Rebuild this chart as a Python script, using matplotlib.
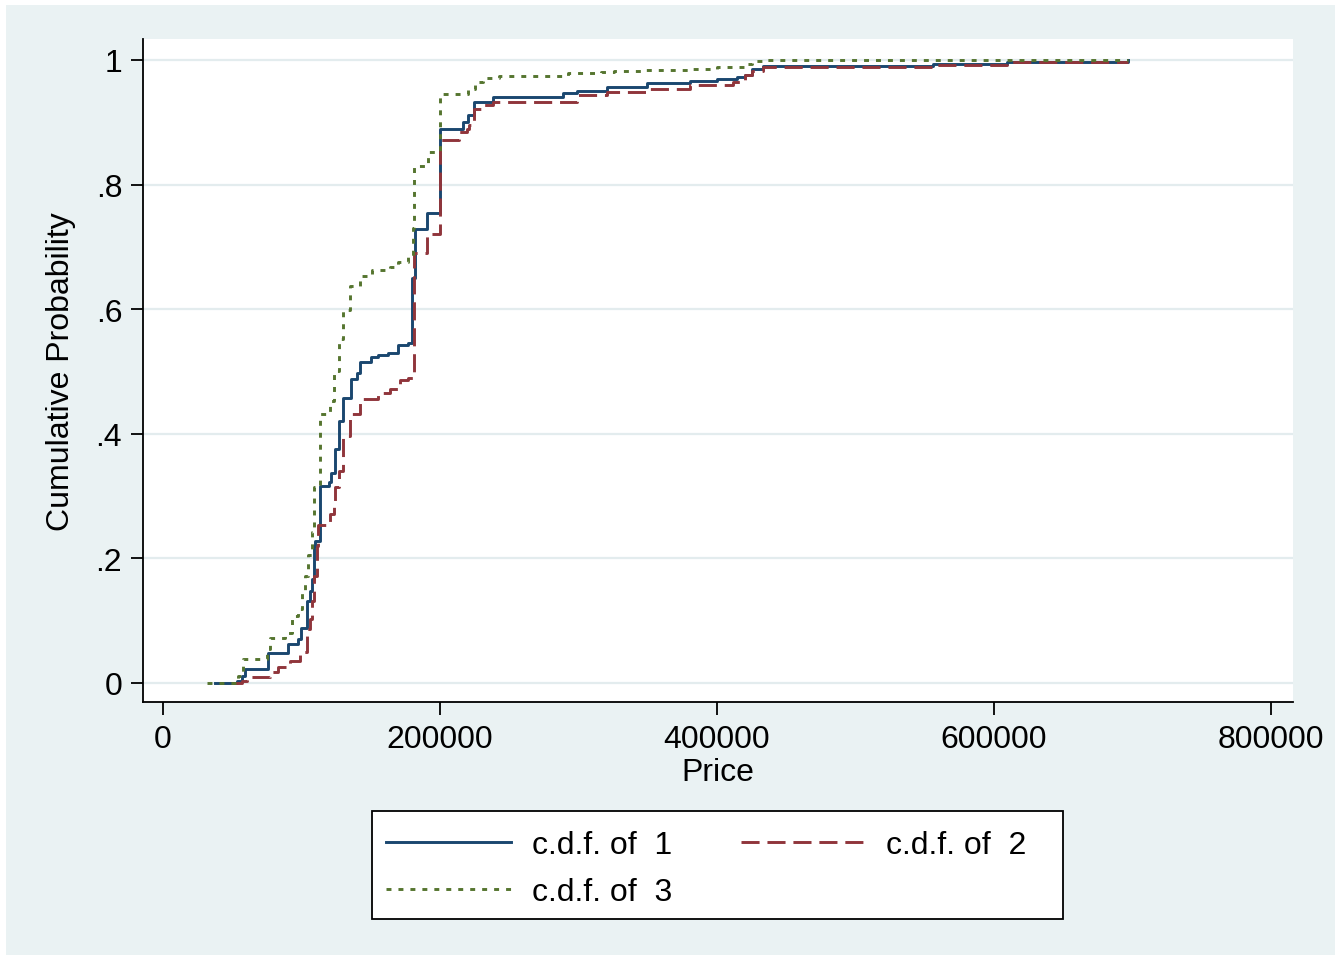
import matplotlib
matplotlib.use("Agg")
import matplotlib.pyplot as plt
from matplotlib.patches import Rectangle

plt.rcParams['font.family'] = ['Liberation Sans', 'DejaVu Sans']

# c.d.f. of 1 (price, cumulative probability)
price_1 = [37500, 53200, 56800, 59200, 76000, 90500, 97700, 99600, 103700, 106100,
           107300, 109200, 110000, 113400, 120100, 121000, 124200, 127300, 130200, 135500,
           139800, 142200, 150200, 155500, 162700, 169900, 177100, 180000, 182000, 190400,
           200000, 216800, 220400, 224800, 238000, 288600, 298700, 320300, 349800, 380500,
           400300, 414800, 420200, 425000, 433400, 556200, 609200, 697000]
cdf_1 = [0.0, 0.003, 0.012, 0.022, 0.048, 0.063, 0.071, 0.089, 0.132, 0.148,
         0.167, 0.220, 0.228, 0.317, 0.322, 0.337, 0.376, 0.421, 0.458, 0.488,
         0.498, 0.515, 0.523, 0.526, 0.530, 0.542, 0.545, 0.650, 0.729, 0.755,
         0.889, 0.901, 0.911, 0.933, 0.940, 0.947, 0.951, 0.956, 0.9625, 0.966,
         0.969, 0.972, 0.976, 0.9856, 0.990, 0.9936, 0.9973, 1.0]

# c.d.f. of 2
price_2 = [49600, 56800, 60400, 77300, 83300, 91700, 98900, 103700, 106100, 107300,
           109200, 111000, 112200, 120600, 123500, 124500, 127300, 130200, 135000, 142200,
           155500, 163900, 171100, 177100, 181000, 190400, 200000, 214000, 219300, 221000,
           224800, 231300, 238000, 298700, 320300, 351600, 380500, 411200, 420200, 425000,
           433400, 556200, 609200, 697000]
cdf_2 = [0.0, 0.003, 0.009, 0.017, 0.025, 0.036, 0.049, 0.087, 0.103, 0.132,
         0.172, 0.220, 0.253, 0.271, 0.285, 0.314, 0.341, 0.397, 0.432, 0.456,
         0.466, 0.472, 0.487, 0.489, 0.691, 0.721, 0.871, 0.884, 0.890, 0.896,
         0.922, 0.928, 0.933, 0.944, 0.949, 0.953, 0.960, 0.965, 0.976, 0.983,
         0.988, 0.992, 0.996, 0.997]

# c.d.f. of 3
price_3 = [31500, 54400, 58000, 74800, 77300, 88100, 92900, 97700, 100100, 102500,
           104900, 107300, 109000, 113400, 120600, 123500, 127300, 130200, 135000, 142200,
           150700, 163900, 169900, 177100, 180500, 181500, 191500, 200000, 220400, 225200,
           231000, 242700, 292400, 316500, 325300, 348000, 380500, 400000, 420200, 425600,
           435000, 697000]
cdf_3 = [0.0, 0.012, 0.0385, 0.055, 0.073, 0.081, 0.107, 0.119, 0.146, 0.172,
         0.205, 0.242, 0.314, 0.432, 0.453, 0.501, 0.552, 0.598, 0.638, 0.654,
         0.6635, 0.667, 0.675, 0.686, 0.730, 0.830, 0.852, 0.945, 0.954, 0.965,
         0.971, 0.975, 0.979, 0.980, 0.983, 0.984, 0.986, 0.988, 0.993, 0.998,
         1.0, 1.0]

series_labels = ["c.d.f. of  1", "c.d.f. of  2", "c.d.f. of  3"]
xticks = [0, 200000, 400000, 600000, 800000]
yticks = [0, 0.2, 0.4, 0.6, 0.8, 1.0]
ytick_labels = ["0", ".2", ".4", ".6", ".8", "1"]

W, H = 1341, 962
FS = 23
fig = plt.figure(figsize=(W / 100, H / 100), dpi=100, facecolor="white")
# stata-like outer background
fig.patches.append(Rectangle((6 / W, 6 / H), (W - 12) / W, (H - 12) / H,
                             transform=fig.transFigure, facecolor="#EAF2F3",
                             edgecolor="none", zorder=-10))
# legend box
fig.patches.append(Rectangle((372 / W, 1 - 920 / H), (1063 - 372) / W, (920 - 812) / H,
                             transform=fig.transFigure, facecolor="white",
                             edgecolor="black", lw=1.3, zorder=-5))

ax = fig.add_axes([143 / W, 1 - 703 / H, (1293 - 143) / W, (703 - 40) / H])
ax.set_zorder(2)
ax.set_facecolor("white")

l1, = ax.plot(price_1, cdf_1, drawstyle="steps-post", color="#1A476F", lw=2.1,
              label=series_labels[0])
l2, = ax.plot(price_2, cdf_2, drawstyle="steps-post", color="#90353B", lw=2.1,
              dashes=(6.2, 2.7), label=series_labels[1])
l3, = ax.plot(price_3, cdf_3, drawstyle="steps-post", color="#55752F", lw=2.1,
              dashes=(1.7, 2.4), label=series_labels[2])

ax.set_xlim(-14440, 815900)
ax.set_ylim(-0.0305, 1.0337)
ax.set_xticks(xticks)
ax.set_xticklabels([str(v) for v in xticks])
ax.set_yticks(yticks)
ax.set_yticklabels(ytick_labels)
ax.yaxis.grid(True, color="#E3ECEE", lw=1.6)
ax.set_axisbelow(True)

for s in ["top", "right"]:
    ax.spines[s].set_visible(False)
for s in ["left", "bottom"]:
    ax.spines[s].set_linewidth(1.3)
    ax.spines[s].set_color("black")

ax.tick_params(axis="both", length=9, width=1.3, labelsize=FS, color="black")
ax.tick_params(axis="y", pad=6)
ax.tick_params(axis="x", pad=7)

ax.set_xlabel("Price", fontsize=FS, labelpad=2)
ax.set_ylabel("Cumulative Probability", fontsize=FS, labelpad=14)

leg = fig.legend([l1, l3, l2], [series_labels[0], series_labels[2], series_labels[1]],
                 ncol=2, loc="upper left", bbox_to_anchor=(372 / W, 1 - 817 / H),
                 bbox_transform=fig.transFigure, borderaxespad=0, fontsize=FS,
                 frameon=False, handlelength=3.9, handletextpad=0.65, columnspacing=2.15,
                 labelspacing=0.53, borderpad=0.45)
leg.set_zorder(3)

fig.savefig("out.png", dpi=100, facecolor="white")
